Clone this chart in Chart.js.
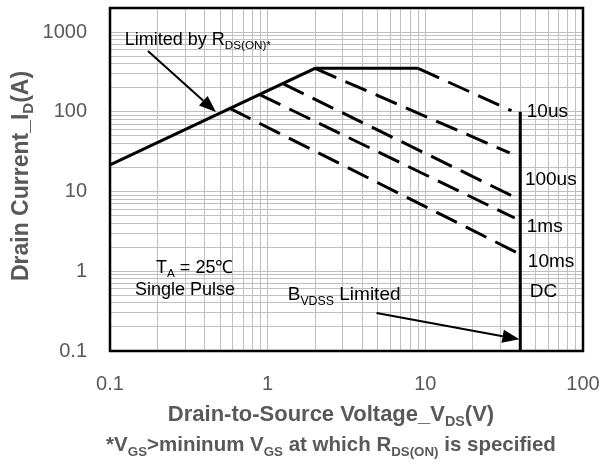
<!DOCTYPE html>
<html>
<head>
<meta charset="utf-8">
<script src="https://cdn.jsdelivr.net/npm/chart.js@4.4.0/dist/chart.umd.min.js"></script>
<style>
    html, body { margin: 0; padding: 0; background: #fff; }
</style>
</head>
<body>
<canvas id="myChart" width="604" height="465"></canvas>
<script>
// tick labels (decades only, minor grid lines drawn in between)
let xTicks = [0.1, 1, 10, 100];
let xTickLabels = ['0.1', '1', '10', '100'];
let yTicks = [0.1, 1, 10, 100, 1000];
let yTickLabels = ['0.1', '1', '10', '100', '1000'];

// Rds(on) limit and package current limit
let rdsV = [0.1, 2, 9];
let rdsI = [21.5, 350, 350];
// pulse lines
let us10V = [9, 35.2];
let us10I = [350, 103];
let us100V = [2, 34.3];
let us100I = [350, 30.4];
let ms1V = [1.25, 36.9];
let ms1I = [225, 8.5];
let ms10V = [0.89, 36.9];
let ms10I = [164, 4.65];
let dcV = [0.576, 37.5];
let dcI = [110, 1.74];
// BVDSS limit
let bvV = [40, 40];
let bvI = [100, 0.1];

const FAM = '"Liberation Sans", Arial, sans-serif';
const GRAY = '#595959';

function pts(xs, ys) {
    return xs.map((v, i) => ({ x: v, y: ys[i] }));
}

function logGrid(majors, max) {
    let t = [];
    majors.forEach(m => {
        for (let k = 1; k <= 9; k++) {
            if (m * k <= max * 1.0001) t.push({ value: m * k });
        }
    });
    return t;
}

function tickLabel(value, majors, labels) {
    for (let i = 0; i < majors.length; i++) {
        if (Math.abs(Math.log10(value) - Math.log10(majors[i])) < 1e-6) return labels[i];
    }
    return '';
}

// text with subscripts: parts = [[text, isSub], ...]
function drawParts(ctx, parts, x, y, size, bold, align) {
    let w = bold ? 'bold ' : '';
    let total = 0;
    parts.forEach(p => {
        ctx.font = w + (p[1] ? size * 0.65 : size) + 'px ' + FAM;
        total += ctx.measureText(p[0]).width;
    });
    let cx = align === 'center' ? x - total / 2 : x;
    ctx.textAlign = 'left';
    ctx.textBaseline = 'alphabetic';
    parts.forEach(p => {
        ctx.font = w + (p[1] ? size * 0.65 : size) + 'px ' + FAM;
        ctx.fillText(p[0], cx, p[1] ? y + size * 0.22 : y);
        cx += ctx.measureText(p[0]).width;
    });
}

function arrow(ctx, x1, y1, x2, y2) {
    let ang = Math.atan2(y2 - y1, x2 - x1);
    let hl = 17, hw = 6.5;
    ctx.beginPath();
    ctx.moveTo(x1, y1);
    ctx.lineTo(x2 - hl * Math.cos(ang), y2 - hl * Math.sin(ang));
    ctx.stroke();
    ctx.beginPath();
    ctx.moveTo(x2, y2);
    ctx.lineTo(x2 - hl * Math.cos(ang) + hw * Math.sin(ang), y2 - hl * Math.sin(ang) - hw * Math.cos(ang));
    ctx.lineTo(x2 - hl * Math.cos(ang) - hw * Math.sin(ang), y2 - hl * Math.sin(ang) + hw * Math.cos(ang));
    ctx.closePath();
    ctx.fill();
}

const framePlugin = {
    id: 'frame',
    afterDatasetsDraw(chart) {
        let ctx = chart.ctx;
        let a = chart.chartArea;
        ctx.save();
        ctx.lineWidth = 2.5;
        ctx.strokeStyle = '#000';
        ctx.strokeRect(a.left, a.top, a.right - a.left, a.bottom - a.top);
        ctx.restore();
    }
};

const notesPlugin = {
    id: 'notes',
    afterDraw(chart) {
        let ctx = chart.ctx;
        let sx = chart.scales.x, sy = chart.scales.y;
        let P = (v, i) => [sx.getPixelForValue(v), sy.getPixelForValue(i)];
        ctx.save();
        ctx.fillStyle = '#000';
        ctx.strokeStyle = '#000';
        ctx.lineWidth = 2;

        let p = P(0.124, 687);
        drawParts(ctx, [['Limited by R', false], ['DS(ON)*', true]], p[0], p[1], 18, false, 'left');
        let a1 = P(0.174, 578), a2 = P(0.47, 99);
        arrow(ctx, a1[0], a1[1], a2[0], a2[1]);

        p = P(0.196, 0.95);
        drawParts(ctx, [['T', false], ['A', true], [' = 25\u2103', false]], p[0], p[1], 18, false, 'left');
        p = P(0.144, 0.5);
        drawParts(ctx, [['Single Pulse', false]], p[0], p[1], 18, false, 'left');

        p = P(1.34, 0.43);
        drawParts(ctx, [['B', false], ['VDSS', true], [' Limited', false]], p[0], p[1], 19, false, 'left');
        let b1 = P(4.9, 0.3), b2 = P(39.5, 0.14);
        arrow(ctx, b1[0], b1[1], b2[0], b2[1]);

        let right = [['10us', 44, 86.7], ['100us', 42.8, 12.1], ['1ms', 44, 3.13], ['10ms', 44.7, 1.13], ['DC', 46, 0.48]];
        right.forEach(r => {
            let q = P(r[1], r[2]);
            drawParts(ctx, [[r[0], false]], q[0], q[1], 19, false, 'left');
        });

        // axis titles
        ctx.fillStyle = GRAY;
        drawParts(ctx, [['Drain-to-Source Voltage_V', false], ['DS', true], ['(V)', false]], 331, 421, 22, true, 'center');
        drawParts(ctx, [['*V', false], ['GS', true], ['>mininum V', false], ['GS', true], [' at which R', false], ['DS(ON)', true], [' is specified', false]], 331, 451, 20.5, true, 'center');
        ctx.translate(28, 176);
        ctx.rotate(-Math.PI / 2);
        drawParts(ctx, [['Drain Current_I', false], ['D', true], ['(A)', false]], 0, 0, 23, true, 'center');
        ctx.restore();
    }
};

function lineSet(xs, ys, dashed) {
    return {
        data: pts(xs, ys),
        showLine: true,
        borderColor: '#000',
        borderWidth: 3,
        borderDash: dashed ? [23, 10] : [],
        pointRadius: 0,
        tension: 0,
        fill: false
    };
}

var ctx = document.getElementById('myChart');
var chart = new Chart(ctx, {
    type: 'scatter',
    data: {
        datasets: [
            lineSet(rdsV, rdsI, false),
            lineSet(us10V, us10I, true),
            lineSet(us100V, us100I, true),
            lineSet(ms1V, ms1I, true),
            lineSet(ms10V, ms10I, true),
            lineSet(dcV, dcI, true),
            lineSet(bvV, bvI, false)
        ]
    },
    options: {
        responsive: false,
        animation: false,
        devicePixelRatio: 1,
        layout: { padding: { left: 0, top: 8, right: 21, bottom: 0 } },
        plugins: {
            legend: { display: false },
            tooltip: { enabled: false }
        },
        scales: {
            x: {
                type: 'logarithmic',
                min: 0.1,
                max: 100,
                afterBuildTicks: s => { s.ticks = logGrid(xTicks, 100); },
                afterFit: s => {
                    s.height = 114;
                    s.paddingLeft = 0;
                    s.paddingRight = 0;
                },
                grid: { color: '#c0c0c0', lineWidth: 1, drawTicks: false },
                border: { display: false },
                ticks: {
                    autoSkip: false,
                    maxRotation: 0,
                    padding: 21,
                    color: GRAY,
                    font: { size: 20, family: FAM },
                    callback: v => tickLabel(v, xTicks, xTickLabels)
                }
            },
            y: {
                type: 'logarithmic',
                min: 0.1,
                max: 2000,
                afterBuildTicks: s => { s.ticks = logGrid(yTicks, 2000); },
                afterFit: s => {
                    s.width = 110;
                    s.paddingTop = 0;
                    s.paddingBottom = 0;
                },
                grid: { color: '#c0c0c0', lineWidth: 1, drawTicks: false },
                border: { display: false },
                ticks: {
                    autoSkip: false,
                    padding: 23,
                    color: GRAY,
                    font: { size: 20, family: FAM },
                    callback: v => tickLabel(v, yTicks, yTickLabels)
                }
            }
        }
    },
    plugins: [framePlugin, notesPlugin]
});
</script>
</body>
</html>
